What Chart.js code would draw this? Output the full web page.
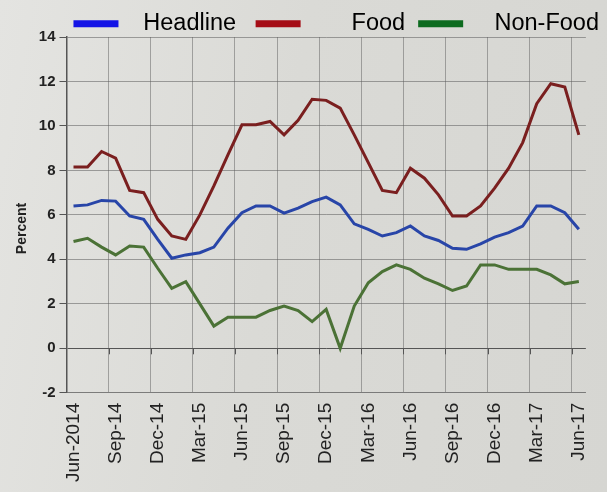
<!DOCTYPE html>
<html>
<head>
<meta charset="utf-8">
<script src="https://cdn.jsdelivr.net/npm/chart.js@4/dist/chart.umd.min.js"></script>
<style>
  html, body { margin: 0; padding: 0; }
  body {
    width: 607px; height: 492px; overflow: hidden;
    background: linear-gradient(100deg, #e4e4e1 0%, #dadad6 45%, #d6d6d2 100%);
  }
  #wrap { position: relative; width: 607px; height: 492px; }
</style>
</head>
<body>
<div id="wrap"><canvas id="inflacao"></canvas></div>
<script>
// meses de jun/2014 a jun/2017
const meses = [
  "Jun-2014", "Jul-14", "Aug-14", "Sep-14", "Oct-14", "Nov-14", "Dec-14",
  "Jan-15", "Feb-15", "Mar-15", "Apr-15", "May-15", "Jun-15", "Jul-15",
  "Aug-15", "Sep-15", "Oct-15", "Nov-15", "Dec-15", "Jan-16", "Feb-16",
  "Mar-16", "Apr-16", "May-16", "Jun-16", "Jul-16", "Aug-16", "Sep-16",
  "Oct-16", "Nov-16", "Dec-16", "Jan-17", "Feb-17", "Mar-17", "Apr-17",
  "May-17", "Jun-17"
];

const headline = [6.4, 6.45, 6.65, 6.62, 5.95, 5.8, 4.9, 4.05, 4.2, 4.3, 4.55, 5.4,
  6.1, 6.4, 6.4, 6.08, 6.3, 6.6, 6.8, 6.45, 5.6, 5.35, 5.05, 5.2, 5.5, 5.05,
  4.85, 4.5, 4.45, 4.7, 5.0, 5.2, 5.5, 6.4, 6.4, 6.1, 5.35];

const food = [8.15, 8.15, 8.85, 8.55, 7.1, 7.0, 5.8, 5.05, 4.9, 6.0, 7.3, 8.7,
  10.05, 10.05, 10.2, 9.6, 10.25, 11.2, 11.15, 10.8, 9.6, 8.35, 7.1, 7.0, 8.1,
  7.65, 6.9, 5.95, 5.95, 6.4, 7.2, 8.1, 9.25, 11.0, 11.9, 11.75, 9.6];

const nonFood = [4.8, 4.95, 4.55, 4.2, 4.6, 4.55, 3.6, 2.7, 3.0, 2.0, 1.0, 1.4,
  1.4, 1.4, 1.7, 1.9, 1.7, 1.2, 1.75, 0.0, 1.9, 2.95, 3.45, 3.75, 3.55, 3.15,
  2.9, 2.6, 2.8, 3.75, 3.75, 3.55, 3.55, 3.55, 3.3, 2.9, 3.0];

const series = ["Headline", "Food", "Non-Food"];

// cores das linhas e das chaves da legenda
const cor_linha = ["#2845a8", "#7a1f1f", "#4b7236"];
const cor_chave = ["#1414e6", "#a50d16", "#0d6b1f"];
// espacos antes/depois de cada nome na legenda
const antes = ["  ", "      ", "   "];
const depois = ["   ", "  ", ""];

// marquinhas abaixo da linha do zero, a cada trimestre
const marcas_zero = {
  id: "marcas_zero",
  afterDatasetsDraw(chart) {
    const x = chart.scales.x;
    const y = chart.scales.y;
    const ctx = chart.ctx;
    const y0 = y.getPixelForValue(0);
    const largura = (x.getPixelForValue(1) - x.getPixelForValue(0));
    ctx.save();
    ctx.strokeStyle = "#555";
    ctx.lineWidth = 1;
    for (let i = 3; i < meses.length; i += 3) {
      const px = Math.round(x.getPixelForValue(i) - largura / 2) + 0.5;
      ctx.beginPath();
      ctx.moveTo(px, y0);
      ctx.lineTo(px, y0 + 6);
      ctx.stroke();
    }
    ctx.restore();
  },
};

const ctx = document.getElementById("inflacao").getContext("2d");
const grafico = new Chart(ctx, {
  type: "line",
  data: {
    labels: meses,
    datasets: [
      { label: series[0], data: headline, borderColor: cor_linha[0] },
      { label: series[1], data: food, borderColor: cor_linha[1] },
      { label: series[2], data: nonFood, borderColor: cor_linha[2] },
    ],
  },
  options: {
    responsive: true,
    maintainAspectRatio: false,
    animation: false,
    layout: { padding: { left: 14, right: 8, top: 12, bottom: 0 } },
    elements: {
      line: { borderWidth: 3, tension: 0, fill: false },
      point: { radius: 0 },
    },
    plugins: {
      tooltip: { enabled: false },
      legend: {
        display: true,
        position: "top",
        align: "end",
        maxHeight: 25,
        labels: {
          boxWidth: 45,
          boxHeight: 7,
          padding: 0,
          color: "#2a2a2a",
          font: { family: "Liberation Sans, Arial, sans-serif", size: 23.5, lineHeight: 1 },
          generateLabels: function (chart) {
            return chart.data.datasets.map(function (ds, i) {
              return {
                text: antes[i] + ds.label + depois[i],
                fillStyle: cor_chave[i],
                strokeStyle: cor_chave[i],
                lineWidth: 0,
                hidden: false,
                datasetIndex: i,
              };
            });
          },
        },
      },
    },
    scales: {
      x: {
        offset: true,
        grid: {
          offset: true,
          drawTicks: false,
          color: function (c) {
            return c.index % 3 === 0 ? "rgba(95,95,95,0.5)" : "rgba(0,0,0,0)";
          },
        },
        border: { color: "rgba(95,95,95,0.5)" },
        ticks: {
          autoSkip: false,
          minRotation: 90,
          maxRotation: 90,
          padding: 10,
          color: "#222",
          font: { family: "Liberation Sans, Arial, sans-serif", size: 19, lineHeight: 0.95 },
          callback: function (valor, i) {
            return i % 3 === 0 ? meses[i] : "";
          },
        },
      },
      y: {
        min: -2,
        max: 14,
        ticks: {
          stepSize: 2,
          padding: 4,
          color: "#222",
          font: { family: "Liberation Sans, Arial, sans-serif", size: 15, weight: "bold", lineHeight: 0.2 },
        },
        grid: {
          tickLength: 7,
          tickColor: "#555",
          color: function (c) {
            return c.tick && c.tick.value === 0 ? "#555" : "rgba(95,95,95,0.55)";
          },
        },
        border: { color: "#555", width: 1.5 },
        title: {
          display: true,
          text: "Percent       ",
          color: "#222",
          padding: { top: 0, bottom: 4 },
          font: { family: "Liberation Sans, Arial, sans-serif", size: 14, weight: "bold" },
        },
      },
    },
  },
  plugins: [marcas_zero],
});
</script>
</body>
</html>
